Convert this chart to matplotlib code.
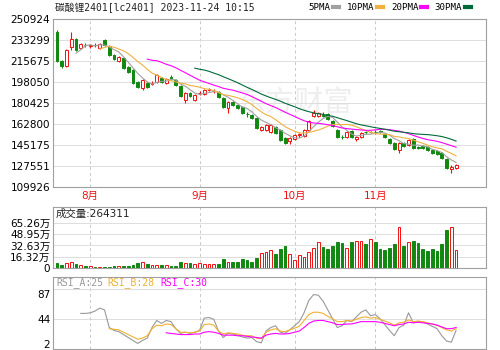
import numpy as np
import pandas as pd
import matplotlib
matplotlib.use("Agg")
import matplotlib.pyplot as plt
from matplotlib.lines import Line2D

title = "碳酸锂2401[lc2401] 2023-11-24 10:15"

# daily bars, 2023-07-21 .. 2023-11-24
opens = [240000, 215700, 211500, 227400, 234100, 226600, 229100, 228300, 229100, 226600,
         233300, 228300, 220700, 215700, 218200, 210600, 208100, 198000, 193000, 197200,
         196400, 198000, 201400, 197200, 202200, 199700, 194700, 182900, 188800, 182900,
         188800, 188000, 191300, 190500, 189700, 184600, 176200, 181300, 178700, 177100,
         171200, 170400, 167800, 157800, 157800, 156100, 160300, 157800, 151000, 148500,
         150200, 153600, 152700, 157800, 169500, 169500, 170400, 171200, 165300, 157800,
         151900, 151900, 156900, 150200, 151900, 156100, 156100, 156100, 156900, 154400,
         150200, 146900, 141000, 146900, 145200, 150200, 143500, 144300, 143500, 141000,
         140100, 138500, 133400, 125000, 125900]
closes = [215700, 211500, 224900, 234100, 224900, 229900, 228900, 228700, 228900, 229900,
          229100, 220700, 217400, 219000, 209800, 206400, 197200, 193900, 199700, 193900,
          197200, 203900, 198000, 200600, 201400, 195500, 186300, 188800, 186300, 187100,
          189200, 191300, 191800, 190500, 185500, 177100, 181300, 178700, 176200, 172000,
          171100, 167800, 159400, 160300, 162000, 162000, 155200, 149400, 146900, 151000,
          153600, 154000, 157800, 165300, 172000, 172000, 169900, 167000, 161100, 151900,
          151500, 156100, 151900, 151900, 155200, 155700, 156400, 155800, 156500, 151900,
          146900, 141800, 146900, 144300, 149400, 142700, 142700, 142700, 141000, 138500,
          137600, 134300, 125900, 126700, 128400]
highs = [241700, 216500, 225700, 240000, 235000, 230800, 230800, 229900, 230800, 230800,
         234100, 229100, 221500, 219900, 219000, 211500, 209000, 198900, 200600, 198000,
         198900, 204800, 202200, 201400, 203900, 200600, 195500, 189700, 189700, 188000,
         190500, 192200, 193000, 192200, 190500, 185500, 182100, 182100, 179600, 177900,
         172900, 171200, 168700, 161100, 162800, 162800, 161100, 158600, 151900, 151900,
         154400, 155200, 158600, 166200, 174500, 172900, 172900, 172000, 166200, 158600,
         153600, 156900, 157800, 152700, 156100, 156900, 156900, 157800, 157800, 155200,
         151000, 147700, 147700, 147700, 150200, 151000, 144300, 145200, 144300, 141800,
         141000, 139300, 134300, 128400, 129200]
lows = [214800, 209800, 210600, 224900, 224100, 225700, 227400, 227000, 227400, 225700,
        228300, 219900, 216500, 214800, 209000, 205600, 196400, 193000, 191300, 193000,
        195500, 197200, 197200, 196400, 199700, 194700, 185500, 180400, 185500, 182100,
        187100, 187100, 190500, 188800, 184600, 176200, 172000, 177900, 175400, 171200,
        168700, 167000, 158600, 156900, 156900, 155200, 154400, 148500, 146000, 146000,
        149400, 151900, 151900, 156900, 168700, 168700, 168700, 166200, 160300, 151000,
        150200, 151000, 151000, 148500, 151000, 154400, 155200, 154400, 155200, 151000,
        146000, 141000, 138500, 143500, 144300, 141800, 141800, 141800, 140100, 137600,
        136800, 133400, 125000, 121700, 125000]
# volume in 万
volumes_wan = [7.2, 4.3, 7.2, 8.7, 5.8, 4.3, 2.9, 2.2, 1.8, 1.6,
               1.8, 2.0, 2.2, 2.5, 3.0, 3.2, 4.3, 7.2, 8.0, 6.5,
               5.0, 5.0, 4.3, 4.3, 3.6, 3.6, 8.7, 7.2, 7.2, 6.5,
               7.2, 6.5, 5.8, 5.8, 6.5, 13.0, 8.7, 8.7, 8.7, 13.0,
               11.5, 8.7, 14.4, 21.7, 23.1, 26.0, 20.2, 27.4, 31.8, 20.2,
               11.5, 18.8, 15.9, 23.1, 28.9, 37.5, 30.3, 27.4, 31.8, 37.5,
               36.1, 28.9, 37.5, 39.0, 39.0, 34.7, 41.9, 37.5, 27.4, 26.0,
               28.9, 34.7, 59.2, 31.8, 37.5, 39.0, 36.1, 27.4, 24.5, 27.4,
               24.5, 34.7, 54.9, 59.2, 26.4311]

nan = np.nan
rsi_a = [nan, nan, nan, nan, nan, 54, 54, 55, 58, 63,
         60, 30, 25, 23, 18, 13, 8, 3, 8, 12,
         30, 42, 37, 42, 40, 28, 20, 22, 20, 22,
         25, 46, 47, 44, 24, 13, 20, 19, 17, 14,
         12, 13, 6, 4, 24, 30, 33, 22, 20, 26,
         33, 40, 55, 76, 86, 85, 75, 60, 45, 30,
         33, 42, 40, 48, 56, 60, 50, 52, 45, 35,
         25, 16, 30, 34, 55, 38, 40, 40, 36, 32,
         28, 16, 7, 5, 25]
rsi_b = [nan] * 11 + [
         28, 27, 26, 22, 18, 14, 10, 12, 16,
         28, 34, 33, 36, 35, 28, 22, 22, 21, 22,
         24, 35, 36, 34, 24, 19, 21, 20, 19, 17,
         16, 16, 12, 11, 22, 26, 28, 24, 23, 26,
         29, 32, 42, 52, 56, 56, 54, 49, 45, 40,
         40, 42, 41, 44, 47, 48, 46, 47, 44, 41,
         38, 34, 38, 39, 43, 40, 41, 40, 38, 36,
         34, 30, 26, 24, 28]
rsi_c = [nan] * 23 + [
         21, 20, 19, 18, 18, 18, 19,
         19, 22, 23, 22, 20, 17, 17, 17, 16, 16,
         15, 14, 13, 12, 17, 19, 20, 19, 19, 20,
         22, 24, 30, 37, 41, 42, 42, 40, 38, 35,
         35, 36, 36, 38, 40, 40, 40, 40, 39, 37,
         35, 33, 35, 36, 39, 38, 39, 38, 37, 36,
         34, 31, 28, 28, 30]

month_idx = [7, 30, 50, 67]
month_labels = ["8月", "9月", "10月", "11月"]
price_ticks = [109926, 127551, 145175, 162800, 180425, 198050, 215675, 233299, 250924]
vol_ticks = [0, 163150, 326300, 489450, 652600]
vol_tick_labels = ["0", "16.32万", "32.63万", "48.95万", "65.26万"]
rsi_ticks = [2, 44, 87]

ma_periods = [5, 10, 20, 30]
ma_names = ["5PMA", "10PMA", "20PMA", "30PMA"]
ma_colors = ["#a0a0a0", "#f0b040", "#ff00ff", "#006a3a"]
rsi_names = ["RSI_A:25", "RSI_B:28", "RSI_C:30"]
rsi_colors = ["#999999", "#f0b030", "#ff00ff"]

RED = "#ee1111"
GREEN = "#118811"
EDGE = "#a0a0a0"
CJK = ["DejaVu Sans", "Noto Sans CJK SC"]
MONO = ["DejaVu Sans Mono", "Noto Sans CJK SC"]
TICK_FS = 7.5

o = np.array(opens, float)
c = np.array(closes, float)
x = np.arange(len(c))
up = c >= o
col = np.where(up, RED, GREEN)

fig = plt.figure(figsize=(5, 3.5), dpi=100)
ax = fig.add_axes([0.106, 0.4657, 0.866, 0.48])
axv = fig.add_axes([0.106, 0.2343, 0.866, 0.1743])
axr = fig.add_axes([0.106, 0.0029, 0.866, 0.2057])

for a in (ax, axv, axr):
    a.set_xlim(-0.84, 90.3)
    a.set_xticks(month_idx)
    a.grid(axis="x", color="#c8c8c8", ls=(0, (3, 3)), lw=0.7)
    a.tick_params(length=0, pad=2)
    for sp in a.spines.values():
        sp.set_color(EDGE)
        sp.set_linewidth(0.8)
    a.set_axisbelow(True)

# watermark
ax.text(0.56, 0.5, "东方财富", transform=ax.transAxes, ha="center", va="center",
        fontsize=21, color="#eeeeee", family=CJK, zorder=0)

# candles
ax.vlines(x, lows, highs, colors=col, lw=0.8, zorder=2)
body = np.maximum(np.abs(c - o), 300)
ax.bar(x, body, bottom=np.minimum(o, c), width=0.62,
       color=np.where(up, "white", GREEN), edgecolor=col, linewidth=0.7, zorder=3)

s = pd.Series(c)
for n, color in zip(ma_periods, ma_colors):
    ax.plot(x, s.rolling(n).mean(), color=color, lw=0.8, zorder=4)

ax.set_ylim(price_ticks[0], price_ticks[-1])
ax.set_yticks(price_ticks)
ax.set_yticklabels([str(v) for v in price_ticks], fontsize=TICK_FS)
ax.grid(axis="y", color="#dddddd", lw=0.7)
ax.set_xticklabels(month_labels, family=CJK, fontsize=7.5, color=RED)
ax.tick_params(axis="x", pad=3)

handles = [Line2D([], [], color=cl, lw=3) for cl in ma_colors]
ax.legend(handles, ma_names, markerfirst=False, ncol=4, frameon=False,
          loc="center right", bbox_to_anchor=(0.975, 1.066), borderpad=0,
          handlelength=0.6, handletextpad=0.3, columnspacing=0.9,
          prop={"family": MONO, "size": 6.6})

fig.text(0.11, 0.977, title, ha="left", va="center", family=MONO, fontsize=7.0,
         color="#222222")

# volume
vol = np.array(volumes_wan) * 1e4
axv.bar(x, vol, width=0.6, color=np.where(up, "white", GREEN), edgecolor=col,
        linewidth=0.7)
axv.set_ylim(0, 884000)
axv.set_yticks(vol_ticks)
axv.set_yticklabels(vol_tick_labels, family=CJK, fontsize=TICK_FS)
axv.grid(axis="y", color="#dddddd", lw=0.7)
axv.set_xticklabels([])
axv.text(0.007, 0.885, "成交量:%d" % round(vol[-1]), transform=axv.transAxes,
         ha="left", va="center", family=CJK, fontsize=7.5, color="#222222")

# rsi
for r, color in zip([rsi_a, rsi_b, rsi_c], rsi_colors):
    axr.plot(x, r, color=color, lw=0.8)
axr.set_ylim(-6.5, 115.9)
axr.set_yticks(rsi_ticks)
axr.set_yticklabels([str(v) for v in rsi_ticks], fontsize=TICK_FS)
axr.axhline(44, color="#dddddd", lw=0.7, zorder=0)
axr.plot([0, 1], [0.833, 0.833], transform=axr.transAxes, color="#dddddd", lw=0.8)
axr.set_xticklabels([])
for name, color, px in zip(rsi_names, rsi_colors, [56, 107, 160]):
    fig.text(px / 500, 1 - 283 / 350, name, ha="left", va="center", family=MONO,
             fontsize=7.0, color=color)

fig.savefig("out.png", dpi=100)
